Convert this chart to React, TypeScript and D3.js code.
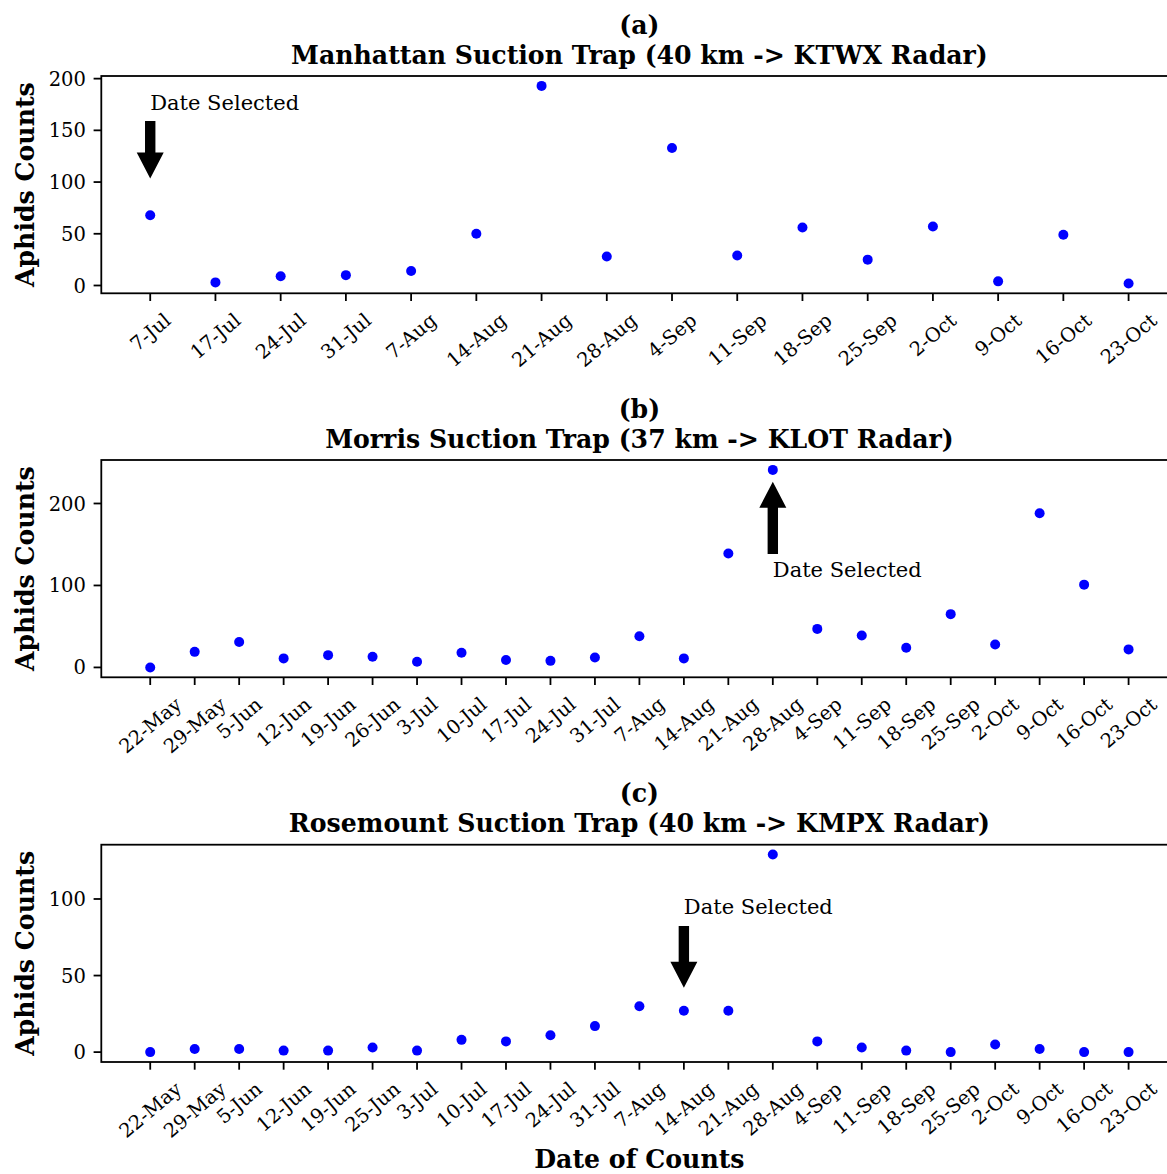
import { useEffect, useRef } from "react";
import * as d3 from "d3";

// panel (a) Manhattan
const datesA = ["7-Jul", "17-Jul", "24-Jul", "31-Jul", "7-Aug", "14-Aug", "21-Aug", "28-Aug", "4-Sep", "11-Sep", "18-Sep", "25-Sep", "2-Oct", "9-Oct", "16-Oct", "23-Oct"];
const countsA = [68, 3, 9, 10, 14, 50, 193, 28, 133, 29, 56, 25, 57, 4, 49, 2];
const ticksA = [0, 50, 100, 150, 200];

// panel (b) Morris
const datesB = ["22-May", "29-May", "5-Jun", "12-Jun", "19-Jun", "26-Jun", "3-Jul", "10-Jul", "17-Jul", "24-Jul", "31-Jul", "7-Aug", "14-Aug", "21-Aug", "28-Aug", "4-Sep", "11-Sep", "18-Sep", "25-Sep", "2-Oct", "9-Oct", "16-Oct", "23-Oct"];
const countsB = [0, 19, 31, 11, 15, 13, 7, 18, 9, 8, 12, 38, 11, 139, 241, 47, 39, 24, 65, 28, 188, 101, 22];
const ticksB = [0, 100, 200];

// panel (c) Rosemount
const datesC = ["22-May", "29-May", "5-Jun", "12-Jun", "19-Jun", "25-Jun", "3-Jul", "10-Jul", "17-Jul", "24-Jul", "31-Jul", "7-Aug", "14-Aug", "21-Aug", "28-Aug", "4-Sep", "11-Sep", "18-Sep", "25-Sep", "2-Oct", "9-Oct", "16-Oct", "23-Oct"];
const countsC = [0, 2, 2, 1, 1, 3, 1, 8, 7, 11, 17, 30, 27, 27, 129, 7, 3, 1, 0, 5, 2, 0, 0];
const ticksC = [0, 50, 100];

const titles = [
  ["(a)", "Manhattan Suction Trap (40 km -> KTWX Radar)"],
  ["(b)", "Morris Suction Trap (37 km -> KLOT Radar)"],
  ["(c)", "Rosemount Suction Trap (40 km -> KMPX Radar)"],
];

// annotation: index of selected date, arrow tip/tail value, text value
const selIndex = [0, 14, 12];
const arrowTip = [103.5, 226.5, 42];
const arrowTail = [159, 138.3, 82.4];
const labelValue = [170, 110.6, 90.5];

const panels = [
  { dates: datesA, counts: countsA, ticks: ticksA },
  { dates: datesB, counts: countsB, ticks: ticksB },
  { dates: datesC, counts: countsC, ticks: ticksC },
];

export default function App() {
  const ref = useRef<SVGSVGElement>(null);

  useEffect(() => {
    const svg = d3.select(ref.current);
    svg.selectAll("*").remove();

    const width = 1167;
    const height = 1174;
    const font = "DejaVu Serif";
    const boldSize = 25.2;
    const tickSize = 19.5;
    const left = 101.3;
    const right = 1177.5;
    const axH = 217.3;
    const tops = [76, 460, 844.7];
    const tickLen = 7.7;
    const pad = 7.7;
    const angle = 40;
    const rad = (angle * Math.PI) / 180;

    svg.attr("width", width).attr("height", height);

    panels.forEach((p, k) => {
      const top = tops[k];
      const bottom = top + axH;
      const n = p.dates.length;
      const xm = 0.05 * (n - 1);
      const x = d3.scaleLinear().domain([-xm, n - 1 + xm]).range([left, right]);
      const lo = d3.min(p.counts)!;
      const hi = d3.max(p.counts)!;
      const ym = 0.05 * (hi - lo);
      const y = d3.scaleLinear().domain([lo - ym, hi + ym]).range([bottom, top]);

      const g = svg.append("g");

      // titles
      g.append("text")
        .attr("x", (left + right) / 2)
        .attr("y", top - 42.5)
        .attr("text-anchor", "middle")
        .attr("font-family", font)
        .attr("font-weight", "bold")
        .attr("font-size", boldSize)
        .text(titles[k][0]);
      g.append("text")
        .attr("x", (left + right) / 2)
        .attr("y", top - 12.5)
        .attr("text-anchor", "middle")
        .attr("font-family", font)
        .attr("font-weight", "bold")
        .attr("font-size", boldSize)
        .text(titles[k][1]);

      // y ticks
      p.ticks.forEach((t) => {
        g.append("line")
          .attr("x1", left - tickLen).attr("x2", left)
          .attr("y1", y(t)).attr("y2", y(t))
          .attr("stroke", "#000").attr("stroke-width", 1.8);
        g.append("text")
          .attr("x", left - tickLen - pad)
          .attr("y", y(t))
          .attr("dy", "0.36em")
          .attr("text-anchor", "end")
          .attr("font-family", font)
          .attr("font-size", tickSize)
          .attr("fill", "#000")
          .text(t);
      });

      // x ticks with rotated labels
      p.dates.forEach((d, i) => {
        g.append("line")
          .attr("x1", x(i)).attr("x2", x(i))
          .attr("y1", bottom).attr("y2", bottom + tickLen)
          .attr("stroke", "#000").attr("stroke-width", 1.8);
        const t = g.append("text")
          .attr("text-anchor", "middle")
          .attr("font-family", font)
          .attr("font-size", tickSize)
          .attr("fill", "#000")
          .text(d);
        const w = (t.node() as SVGTextElement).getComputedTextLength();
        const h = tickSize * 1.16;
        const bh = w * Math.sin(rad) + h * Math.cos(rad);
        const cy = bottom + tickLen + pad + bh / 2;
        t.attr("transform", `translate(${x(i)},${cy}) rotate(${-angle})`)
          .attr("dy", "0.35em");
      });

      // y label
      g.append("text")
        .attr("transform", `translate(33.5,${(top + bottom) / 2}) rotate(-90)`)
        .attr("text-anchor", "middle")
        .attr("font-family", font)
        .attr("font-weight", "bold")
        .attr("font-size", boldSize)
        .text("Aphids Counts");

      // points
      g.selectAll("circle")
        .data(p.counts)
        .join("circle")
        .attr("cx", (_, i) => x(i))
        .attr("cy", (d) => y(d))
        .attr("r", 5)
        .attr("fill", "#0000ff");

      // arrow annotation
      const ax = x(selIndex[k]);
      const tipY = y(arrowTip[k]);
      const tailY = y(arrowTail[k]);
      const dir = tailY < tipY ? 1 : -1; // 1: pointing down
      const headLen = 26;
      const headW = 13.5;
      const shaftW = 5.2;
      const baseY = tipY - dir * headLen;
      g.append("polygon")
        .attr("points", [
          [ax - shaftW, tailY],
          [ax + shaftW, tailY],
          [ax + shaftW, baseY],
          [ax + headW, baseY],
          [ax, tipY],
          [ax - headW, baseY],
          [ax - shaftW, baseY],
        ].map((q) => q.join(",")).join(" "))
        .attr("fill", "#000");
      g.append("text")
        .attr("x", ax)
        .attr("y", y(labelValue[k]))
        .attr("font-family", font)
        .attr("font-size", 21)
        .attr("fill", "#000")
        .text("Date Selected");

      // frame
      g.append("rect")
        .attr("x", left).attr("y", top)
        .attr("width", right - left).attr("height", axH)
        .attr("fill", "none")
        .attr("stroke", "#000")
        .attr("stroke-width", 1.8);
    });

    svg.append("text")
      .attr("x", (left + right) / 2)
      .attr("y", 1168)
      .attr("text-anchor", "middle")
      .attr("font-family", font)
      .attr("font-weight", "bold")
      .attr("font-size", boldSize)
      .text("Date of Counts");
  }, []);

  return (
    <svg
      ref={ref}
      style={{ position: "absolute", left: 0, top: 0, display: "block", background: "#fff" }}
    ></svg>
  );
}
